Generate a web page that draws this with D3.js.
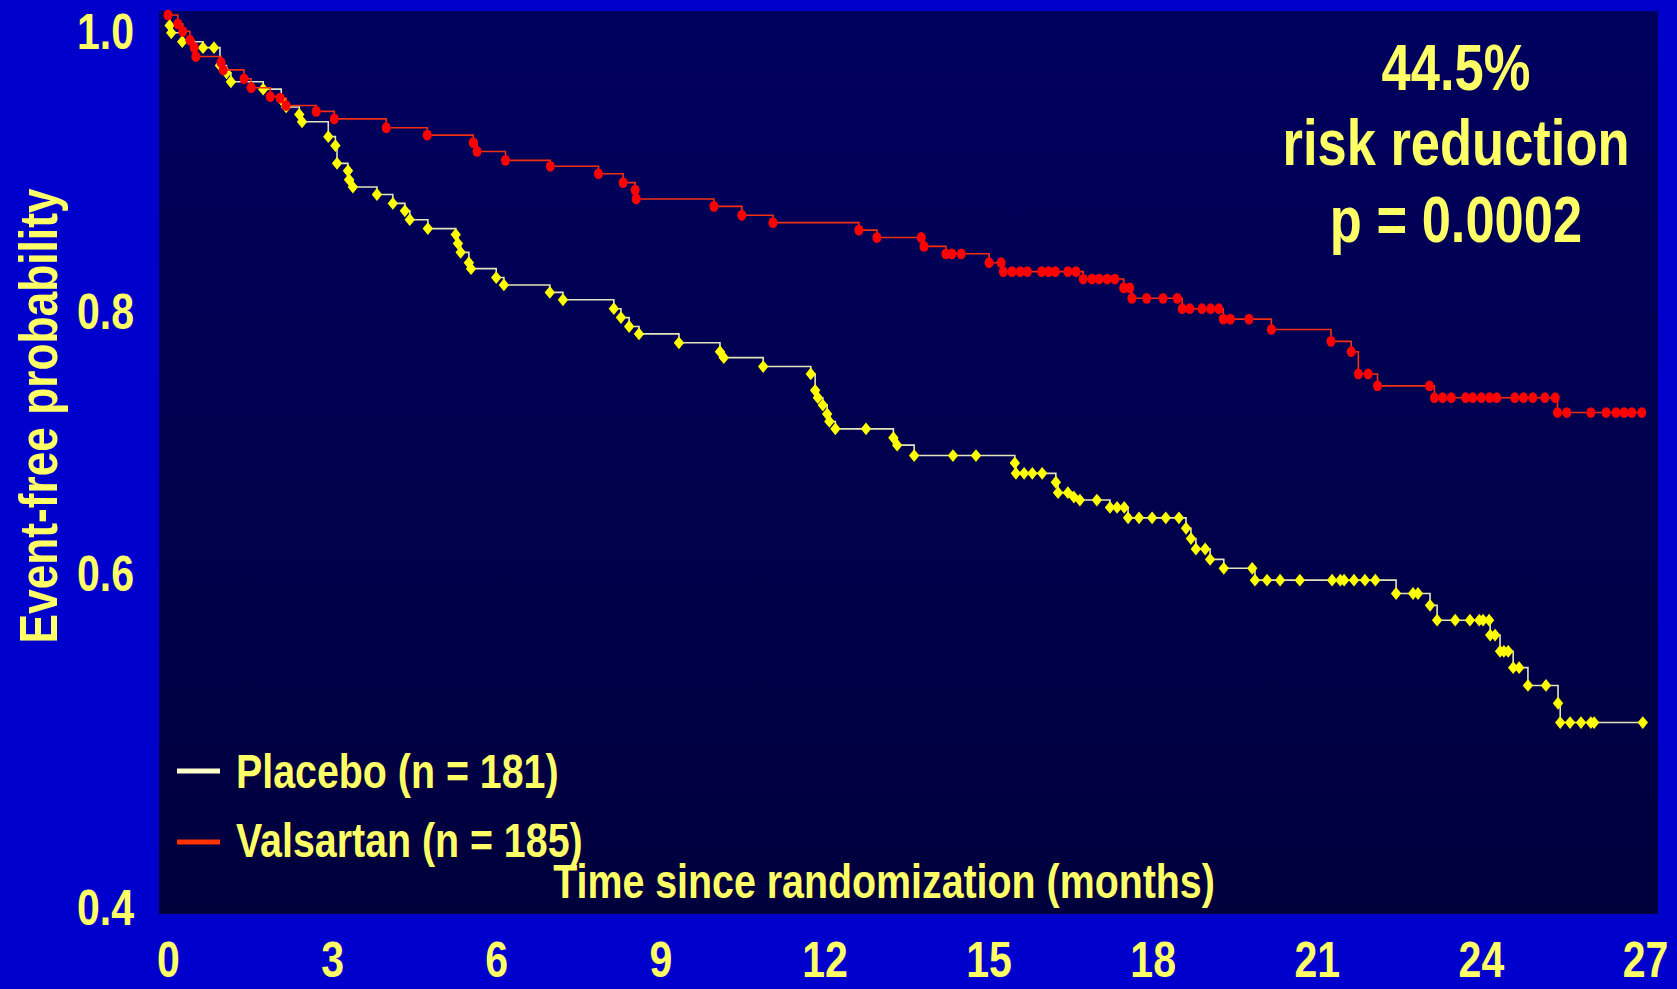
<!DOCTYPE html>
<html><head><meta charset="utf-8">
<script src="https://cdn.jsdelivr.net/npm/d3@7"></script>
<style>
html,body{margin:0;padding:0;background:#0000CC;overflow:hidden;}
svg{display:block;}
text{font-family:"Liberation Sans",Arial,sans-serif;font-weight:bold;fill:#FFFF66;}
</style></head><body>
<svg id="chart" width="1677" height="989"></svg>
<script>
// ---------- data ----------
const xTicks = [0, 3, 6, 9, 12, 15, 18, 21, 24, 27];
const yTicks = [0.4, 0.6, 0.8, 1.0];
const seriesNames = ["Placebo (n = 181)", "Valsartan (n = 185)"];
const annotationLines = ["44.5%", "risk reduction", "p = 0.0002"];
const xTitle = "Time since randomization (months)";
const yTitle = "Event-free probability";

const valsartanTime = [0,0.18,0.27,0.40,0.48,0.51,0.97,1.01,1.39,1.52,1.87,2.05,2.16,2.71,3.04,3.99,4.74,5.58,5.65,6.17,6.99,7.87,8.32,8.54,8.56,9.98,10.49,11.06,12.63,12.96,13.77,13.82,14.22,14.33,14.50,15.01,15.23,15.27,15.43,15.58,15.71,15.97,16.10,16.22,16.45,16.60,16.73,16.89,17.02,17.17,17.31,17.47,17.58,17.62,17.89,18.19,18.45,18.54,18.68,18.90,19.06,19.21,19.29,19.42,19.76,20.17,21.26,21.63,21.76,21.94,22.11,23.06,23.15,23.30,23.46,23.72,23.85,24.01,24.16,24.29,24.62,24.78,24.95,25.17,25.36,25.40,25.57,26.01,26.29,26.47,26.62,26.76,26.94];
const valsartanSurv = [1.000,0.994,0.989,0.983,0.978,0.972,0.968,0.963,0.957,0.951,0.945,0.944,0.939,0.935,0.930,0.924,0.919,0.914,0.908,0.902,0.898,0.893,0.887,0.882,0.876,0.871,0.865,0.860,0.855,0.850,0.850,0.844,0.839,0.839,0.839,0.833,0.833,0.827,0.827,0.827,0.827,0.827,0.827,0.827,0.827,0.827,0.822,0.822,0.822,0.822,0.822,0.816,0.816,0.809,0.809,0.809,0.809,0.802,0.802,0.802,0.802,0.802,0.795,0.795,0.795,0.788,0.780,0.773,0.758,0.758,0.750,0.750,0.742,0.742,0.742,0.742,0.742,0.742,0.742,0.742,0.742,0.742,0.742,0.742,0.742,0.732,0.732,0.732,0.732,0.732,0.732,0.732,0.732];
const valsartanEnd = 27;

const placeboTime = [0.03,0.06,0.26,0.64,0.84,0.95,1.07,1.15,1.74,2.07,2.16,2.40,2.45,2.93,3.06,3.09,3.29,3.31,3.38,3.82,4.11,4.33,4.42,4.75,5.26,5.30,5.35,5.50,5.54,6.00,6.14,6.98,7.22,8.15,8.28,8.43,8.61,9.34,10.09,10.16,10.88,11.75,11.83,11.88,11.97,12.05,12.09,12.20,12.76,13.26,13.33,13.64,14.35,14.77,15.48,15.50,15.65,15.80,15.98,16.23,16.27,16.45,16.56,16.67,16.98,17.22,17.35,17.48,17.55,17.75,17.99,18.24,18.48,18.61,18.70,18.79,18.96,19.05,19.30,19.82,19.87,20.09,20.33,20.69,21.28,21.43,21.50,21.68,21.88,22.07,22.45,22.76,22.85,23.07,23.20,23.53,23.80,23.97,24.04,24.15,24.17,24.26,24.35,24.42,24.50,24.59,24.70,24.86,25.19,25.41,25.45,25.63,25.83,26.01,26.07,26.96];
const placeboSurv = [0.993,0.988,0.982,0.978,0.978,0.966,0.961,0.955,0.950,0.943,0.938,0.933,0.928,0.918,0.912,0.900,0.895,0.889,0.884,0.879,0.873,0.868,0.862,0.856,0.852,0.846,0.840,0.833,0.829,0.823,0.818,0.813,0.808,0.802,0.796,0.790,0.785,0.779,0.773,0.769,0.763,0.758,0.747,0.742,0.737,0.731,0.726,0.721,0.721,0.715,0.710,0.703,0.703,0.703,0.698,0.691,0.691,0.691,0.691,0.685,0.678,0.678,0.675,0.673,0.673,0.668,0.668,0.668,0.661,0.661,0.661,0.661,0.661,0.654,0.647,0.640,0.640,0.633,0.627,0.627,0.619,0.619,0.619,0.619,0.619,0.619,0.619,0.619,0.619,0.619,0.610,0.610,0.610,0.602,0.592,0.592,0.592,0.592,0.592,0.592,0.582,0.582,0.571,0.571,0.571,0.560,0.560,0.548,0.548,0.536,0.523,0.523,0.523,0.523,0.523,0.523];
const placeboStart = [0, 1.0];

// ---------- layout ----------
const W = 1677, H = 989;
const panel = {left: 159, top: 11, right: 1658, bottom: 914};
const NARROW = "scale(0.82,1)";
const textColor = "#FFFF66";

const svg = d3.select("#chart");
const defs = svg.append("defs");
const grad = defs.append("linearGradient").attr("id", "pg").attr("x1", 0).attr("y1", 0).attr("x2", 0).attr("y2", 1);
grad.append("stop").attr("offset", "0%").attr("stop-color", "#00005F");
grad.append("stop").attr("offset", "100%").attr("stop-color", "#00003D");

svg.append("rect").attr("width", W).attr("height", H).attr("fill", "#0000CC");
svg.append("rect").attr("x", panel.left).attr("y", panel.top)
  .attr("width", panel.right - panel.left).attr("height", panel.bottom - panel.top)
  .attr("fill", "url(#pg)");

const x = d3.scaleLinear().domain([0, 27]).range([168, 1645]);
const y = d3.scaleLinear().domain([0.4, 1.0]).range([905, 15]);
// tick labels on the original slide sit slightly off the data grid
const yLabel = d3.scaleLinear().domain([0.4, 0.6, 0.8, 1.0]).range([906, 572, 310, 30]);

// ---------- axes ----------
const gx = svg.append("g").attr("transform", "translate(0,977)")
  .call(d3.axisBottom(x).tickValues(xTicks).tickSize(0).tickPadding(0).tickFormat(d3.format("d")));
gx.select(".domain").remove();
gx.attr("font-family", null).attr("font-size", null);
gx.selectAll("text").attr("y", 0).attr("dy", 0).attr("font-size", 50)
  .attr("fill", textColor).attr("transform", NARROW);

const gy = svg.append("g").attr("transform", "translate(134,0)")
  .call(d3.axisLeft(yLabel).tickValues(yTicks).tickSize(0).tickPadding(0).tickFormat(d3.format(".1f")));
gy.select(".domain").remove();
gy.attr("font-family", null).attr("font-size", null);
gy.selectAll("text").attr("x", 0).attr("dy", "0.36em").attr("font-size", 50)
  .attr("fill", textColor).attr("text-anchor", "end").attr("transform", NARROW);

svg.append("text").attr("transform", "translate(57,416) rotate(-90) " + NARROW)
  .attr("text-anchor", "middle").attr("font-size", 54).text(yTitle);
svg.append("text").attr("transform", "translate(884,898) " + NARROW)
  .attr("text-anchor", "middle").attr("font-size", 48).text(xTitle);

// ---------- curves ----------
const placebo = [placeboStart].concat(placeboTime.map((t, i) => [t, placeboSurv[i]]));
const valsartan = valsartanTime.map((t, i) => [t, valsartanSurv[i]]);

const line = d3.line().x(d => x(d[0])).y(d => y(d[1])).curve(d3.curveStepAfter);

const pLine = placebo.concat([[placeboTime[placeboTime.length - 1], placeboSurv[placeboSurv.length - 1]]]);
svg.append("path").datum(pLine).attr("d", line)
  .attr("fill", "none").attr("stroke", "#E4E4BC").attr("stroke-width", 1.6);
svg.append("g").selectAll("path").data(placebo.slice(1)).join("path")
  .attr("transform", d => `translate(${x(d[0])},${y(d[1])})`)
  .attr("d", "M0,-6.4L5.2,0L0,6.4L-5.2,0Z").attr("fill", "#FFFF00");

const vLine = valsartan.concat([[valsartanEnd, valsartanSurv[valsartanSurv.length - 1]]]);
svg.append("path").datum(vLine).attr("d", line)
  .attr("fill", "none").attr("stroke", "#F03010").attr("stroke-width", 1.6);
svg.append("g").selectAll("ellipse").data(valsartan).join("ellipse")
  .attr("cx", d => x(d[0])).attr("cy", d => y(d[1]))
  .attr("rx", 4.5).attr("ry", 5.4).attr("fill", "#FF0000");

// ---------- legend ----------
const legendColors = ["#FFFFCC", "#FF3300"];
const legendRows = [{ly: 771, ty: 788}, {ly: 842, ty: 857}];
const lg = svg.append("g");
seriesNames.forEach((name, i) => {
  lg.append("rect").attr("x", 177).attr("y", legendRows[i].ly - 2.5).attr("width", 43).attr("height", 5)
    .attr("fill", legendColors[i]);
  lg.append("text").attr("transform", `translate(236,${legendRows[i].ty}) ` + NARROW)
    .attr("font-size", 48).text(name);
});

// ---------- annotation ----------
const annBase = [90, 165, 242];
annotationLines.forEach((s, i) => {
  svg.append("text").attr("transform", `translate(1456,${annBase[i]}) ` + NARROW)
    .attr("text-anchor", "middle").attr("font-size", 64).text(s);
});
</script>
</body></html>
